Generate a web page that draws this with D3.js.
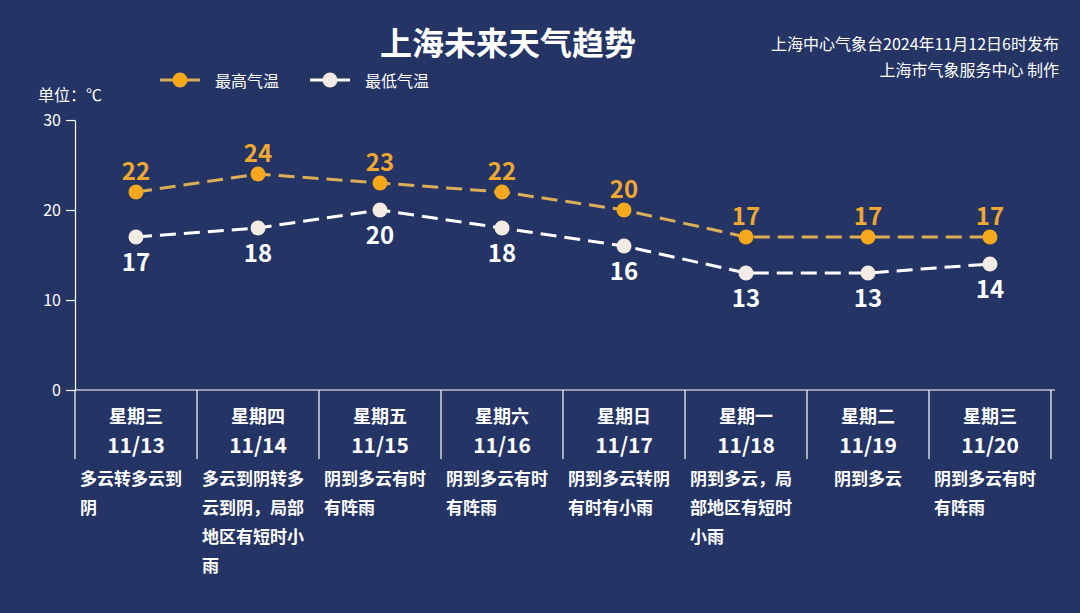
<!DOCTYPE html>
<html><head><meta charset="utf-8">
<script src="https://cdn.jsdelivr.net/npm/d3@7"></script>
<style>html,body{margin:0;padding:0;background:#243465;}svg{display:block;}</style>
</head><body>
<svg id="chart" width="1080" height="613"></svg>
<script>
const weekdays = ["星期三","星期四","星期五","星期六","星期日","星期一","星期二","星期三"];
const dates = ["11/13","11/14","11/15","11/16","11/17","11/18","11/19","11/20"];
const highTemps = [22,24,23,22,20,17,17,17];
const lowTemps = [17,18,20,18,16,13,13,14];
const descriptions = [
  "多云转多云到阴",
  "多云到阴转多云到阴，局部地区有短时小雨",
  "阴到多云有时有阵雨",
  "阴到多云有时有阵雨",
  "阴到多云转阴有时有小雨",
  "阴到多云，局部地区有短时小雨",
  "阴到多云",
  "阴到多云有时有阵雨"
];
const yTicks = [0,10,20,30];
const seriesNames = ["最高气温","最低气温"];

(function(){
const FONT = "'Noto Sans CJK SC','Microsoft YaHei',sans-serif";
const svg = d3.select("#chart");
svg.append("rect").attr("width",1080).attr("height",613).attr("fill","#243465");

const pLeft = 75, pRight = 1051, pTop = 120, pBottom = 390;
const x = d3.scaleBand().domain(dates).range([pLeft,pRight]).padding(0);
const y = d3.scaleLinear().domain([0,30]).range([pBottom,pTop]);
const cx = d => x(d) + x.bandwidth()/2;

// title
svg.append("text").attr("x",508).attr("y",41).attr("text-anchor","middle").attr("dominant-baseline","central")
  .attr("font-family",FONT).attr("font-weight","bold").attr("font-size",32).attr("fill","#ffffff").text("上海未来天气趋势");
svg.append("text").attr("x",1059).attr("y",43).attr("text-anchor","end").attr("dominant-baseline","central")
  .attr("font-family",FONT).attr("font-size",16).attr("fill","#ffffff").text("上海中心气象台2024年11月12日6时发布");
svg.append("text").attr("x",1059).attr("y",69).attr("text-anchor","end").attr("dominant-baseline","central")
  .attr("font-family",FONT).attr("font-size",16).attr("fill","#ffffff").text("上海市气象服务中心 制作");

// legend
const legendColors = [{line:"#d9ac58",dot:"#f5a81c"},{line:"#ffffff",dot:"#f4ece4"}];
const legendX = [160,310];
seriesNames.forEach((n,i)=>{
  const g = svg.append("g").attr("transform",`translate(${legendX[i]},80)`);
  g.append("line").attr("x1",0).attr("x2",40).attr("y1",0).attr("y2",0).attr("stroke",legendColors[i].line).attr("stroke-width",3);
  g.append("circle").attr("cx",20).attr("cy",0).attr("r",7.5).attr("fill",legendColors[i].dot);
  g.append("text").attr("x",55).attr("y",0).attr("dominant-baseline","central").attr("font-family",FONT)
    .attr("font-size",16).attr("fill","#ffffff").text(n);
});

svg.append("text").attr("x",38).attr("y",94).attr("dominant-baseline","central").attr("font-family",FONT)
  .attr("font-size",16).attr("fill","#ffffff").text("单位：℃");

// y axis
const yAxis = svg.append("g").attr("transform",`translate(${pLeft},0)`)
  .call(d3.axisLeft(y).tickValues(yTicks).tickSize(9).tickPadding(5).tickSizeOuter(0));
yAxis.select(".domain").attr("stroke","#ffffff").attr("stroke-width",1.2);
yAxis.selectAll(".tick line").attr("stroke","#ffffff").attr("stroke-width",1.2);
yAxis.selectAll(".tick text").attr("fill","#ffffff").attr("font-family",FONT).attr("font-size",16);

// x axis baseline
svg.append("line").attr("x1",pLeft).attr("x2",1055).attr("y1",pBottom).attr("y2",pBottom).attr("stroke","#ffffff").attr("stroke-width",1.2);
// dividers
const divs = dates.map(d=>x(d)).concat([pRight]);
svg.selectAll(".div").data(divs).enter().append("line")
  .attr("x1",d=>d).attr("x2",d=>d).attr("y1",pBottom).attr("y2",459).attr("stroke","#ffffff").attr("stroke-width",1.2);

// category labels
svg.selectAll(".wd").data(weekdays).enter().append("text")
  .attr("x",(d,i)=>cx(dates[i])).attr("y",415).attr("text-anchor","middle").attr("dominant-baseline","central")
  .attr("font-family",FONT).attr("font-weight","bold").attr("font-size",18).attr("fill","#ffffff").text(d=>d);
svg.selectAll(".dt").data(dates).enter().append("text")
  .attr("x",d=>cx(d)).attr("y",444).attr("text-anchor","middle").attr("dominant-baseline","central")
  .attr("font-family",FONT).attr("font-weight","bold").attr("font-size",21).attr("fill","#ffffff").text(d=>d);

// descriptions
const DF = 17, perLine = 6;
descriptions.forEach((t,i)=>{
  const chars = Array.from(t);
  const lines = [];
  for(let k=0;k<chars.length;k+=perLine) lines.push(chars.slice(k,k+perLine).join(""));
  const bw = lines.length>1 ? 112 : chars.length*DF;
  const x0 = cx(dates[i]) - bw/2;
  lines.forEach((ln,j)=>{
    svg.append("text").attr("x",x0).attr("y",477 + j*29).attr("dominant-baseline","central")
      .attr("font-family",FONT).attr("font-weight","bold").attr("font-size",DF).attr("fill","#ffffff").text(ln);
  });
});

// lines
const line = d3.line().x((d,i)=>cx(dates[i])).y(d=>y(d));
const series = [
  {data:highTemps, line:"#dcae55", dot:"#f5a81c", label:"#f0a830", dy:-23},
  {data:lowTemps, line:"#ffffff", dot:"#f4ece4", label:"#ffffff", dy:23}
];
series.forEach(s=>{
  svg.append("path").datum(s.data).attr("d",line).attr("fill","none").attr("stroke",s.line)
    .attr("stroke-width",3).attr("stroke-dasharray","16,8");
  svg.selectAll(null).data(s.data).enter().append("circle")
    .attr("cx",(d,i)=>cx(dates[i])).attr("cy",d=>y(d)).attr("r",7.5).attr("fill",s.dot);
  svg.selectAll(null).data(s.data).enter().append("text")
    .attr("x",(d,i)=>cx(dates[i])).attr("y",d=>y(d)+s.dy).attr("text-anchor","middle").attr("dominant-baseline","central")
    .attr("font-family",FONT).attr("font-weight","bold").attr("font-size",24).attr("fill",s.label).text(d=>d);
});
})();
</script>
</body></html>
